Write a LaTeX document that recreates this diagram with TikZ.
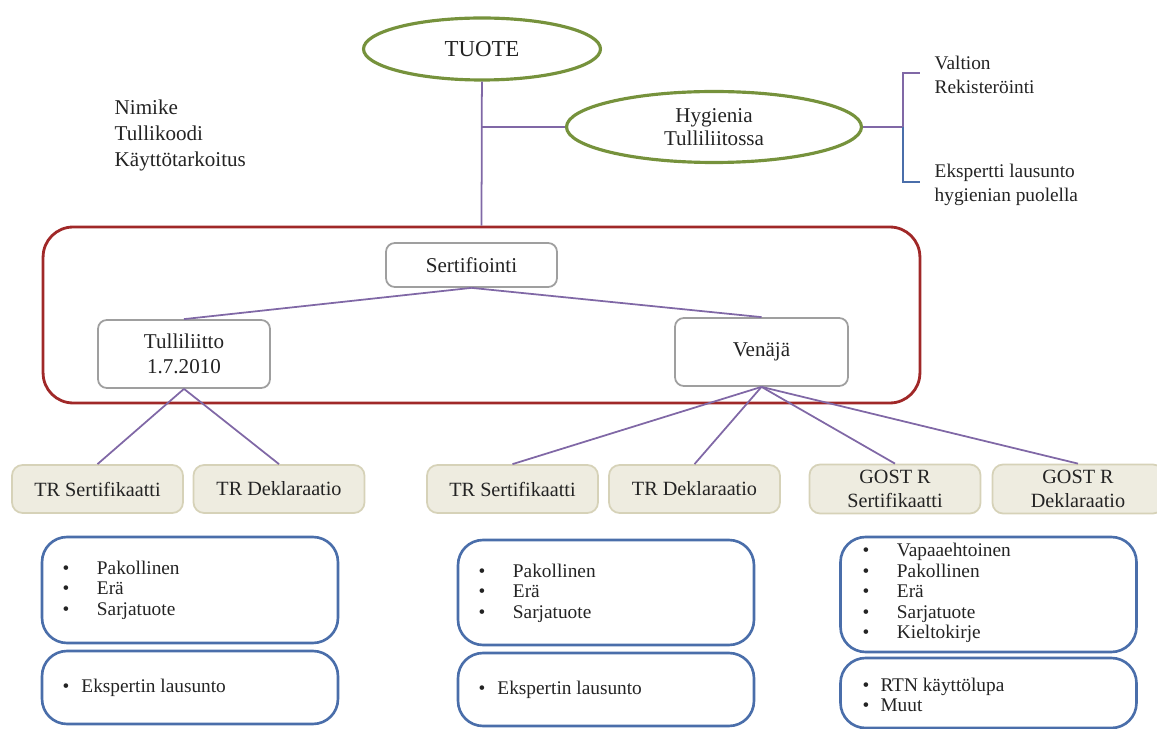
\documentclass[tikz,border=0pt]{standalone}
\usepackage{fontspec}
\setmainfont{Liberation Serif}
\usetikzlibrary{shapes.geometric}

\definecolor{tuotegreen}{RGB}{118,146,60}
\definecolor{certred}{RGB}{160,40,40}
\definecolor{linkviolet}{RGB}{128,104,166}
\definecolor{listblue}{RGB}{74,110,170}
\definecolor{beigefill}{RGB}{238,236,224}
\definecolor{beigeline}{RGB}{214,210,184}
\definecolor{inktext}{RGB}{35,35,35}

\newcommand{\bl}{\textbullet}

\begin{document}
\begin{tikzpicture}[x = 0.02cm, y = -0.02cm, line width = 1pt, text = inktext,
    oval/.style = {ellipse, draw = tuotegreen, line width = 1.8pt, align = center,
        font = \fontsize{12}{13.5}\selectfont},
    greybox/.style = {draw = gray!75, rounded corners = 5pt, align = center,
        font = \fontsize{12}{14.5}\selectfont},
    beigebox/.style = {draw = beigeline, fill = beigefill, rounded corners = 6pt,
        minimum width = 3.42cm, minimum height = 0.96cm, align = center,
        font = \fontsize{11.5}{13.5}\selectfont},
    listbox/.style = {draw = listblue, line width = 1.5pt, rounded corners = 0.5cm,
        minimum width = 5.92cm},
    listtext/.style = {anchor = west, align = left,
        font = \fontsize{11}{11.6}\selectfont},
    link/.style = {draw = linkviolet}]
\useasboundingbox (0,0) rectangle (1157,729);

% top
\node[oval, minimum width = 4.74cm, minimum height = 1.24cm,
    font = \fontsize{13}{14}\selectfont] (tuote) at (482,49) {TUOTE};
\node[oval, minimum width = 5.9cm, minimum height = 1.42cm] (hyg) at (714,127)
    {Hygienia\\Tulliliitossa};
\node[anchor = north west, align = left, font = \fontsize{12}{14.8}\selectfont]
    (nimike) at (108,93) {Nimike\\Tullikoodi\\Käyttötarkoitus};

\coordinate (hjoin) at (482,127);
\coordinate (brm) at (903,127);
\coordinate (br1) at (903,73);
\coordinate (br2) at (903,182);
\coordinate (t1) at (920,73);
\coordinate (t2) at (920,182);
\node[anchor = west, align = left, font = \fontsize{11}{13.6}\selectfont]
    (valtion) at (928,75) {Valtion\\Rekisteröinti};
\node[anchor = west, align = left, font = \fontsize{11}{13.6}\selectfont]
    (ekspertti) at (928,185) {Ekspertti lausunto\\hygienian puolella};

% certification frame
\node[draw = certred, line width = 1.6pt, rounded corners = 0.6cm,
    minimum width = 17.54cm, minimum height = 3.52cm] (frame) at (481.5,315) {};
\node[greybox, minimum width = 3.42cm, minimum height = 0.88cm] (sert) at (471.5,265)
    {Sertifiointi};
\node[greybox, minimum width = 3.44cm, minimum height = 1.36cm] (tulli) at (184,354)
    {Tulliliitto\\1.7.2010};
\node[greybox, minimum width = 3.46cm, minimum height = 1.36cm] (venaja) at (761.5,352)
    {Venäjä};

% documents
\node[beigebox] (trs1) at (97.5,489) {TR Sertifikaatti};
\node[beigebox] (trd1) at (279,489) {TR Deklaraatio};
\node[beigebox] (trs2) at (512.5,489) {TR Sertifikaatti};
\node[beigebox] (trd2) at (694.5,489) {TR Deklaraatio};
\node[beigebox] (gosts) at (895,489) {GOST R\\Sertifikaatti};
\node[beigebox] (gostd) at (1078,489) {GOST R\\Deklaraatio};

% lists
\node[listbox, minimum height = 2.12cm] (lista1) at (190,590) {};
\node[listbox, minimum height = 1.46cm] (listb1) at (190,687.5) {};
\node[listbox, minimum height = 2.1cm] (lista2) at (606,592.5) {};
\node[listbox, minimum height = 1.46cm] (listb2) at (606,689.5) {};
\node[listbox, minimum height = 2.3cm] (lista3) at (988.5,594.5) {};
\node[listbox, minimum height = 1.4cm] (listb3) at (988.5,693) {};

\node[listtext] (txa1) at (56,590)
    {\bl\hspace{5.5mm}Pakollinen\\\bl\hspace{5.5mm}Erä\\\bl\hspace{5.5mm}Sarjatuote};
\node[listtext] (txb1) at (56,688) {\bl\hspace{2.4mm}Ekspertin lausunto};
\node[listtext] (txa2) at (472,593)
    {\bl\hspace{5.5mm}Pakollinen\\\bl\hspace{5.5mm}Erä\\\bl\hspace{5.5mm}Sarjatuote};
\node[listtext] (txb2) at (472,690) {\bl\hspace{2.4mm}Ekspertin lausunto};
\node[listtext] (txa3) at (856,593)
    {\bl\hspace{5.5mm}Vapaaehtoinen\\\bl\hspace{5.5mm}Pakollinen\\\bl\hspace{5.5mm}Erä\\
     \bl\hspace{5.5mm}Sarjatuote\\\bl\hspace{5.5mm}Kieltokirje};
\node[listtext] (txb3) at (856,695) {\bl\hspace{2.2mm}RTN käyttölupa\\\bl\hspace{2.2mm}Muut};

% connectors
\draw[link] (tuote) -- (frame.north);
\draw[link] (hjoin) -- (hyg.west);
\draw[link] (hyg.east) -- (brm) -- (br1) -- (t1);
\draw[draw = listblue] (brm) -- (br2) -- (t2);
\draw[link] (sert.south) -- (tulli.north);
\draw[link] (sert.south) -- (venaja.north);
\draw[link] (tulli.south) -- (trs1.north);
\draw[link] (tulli.south) -- (trd1.north);
\draw[link] (venaja.south) -- (trs2.north);
\draw[link] (venaja.south) -- (trd2.north);
\draw[link] (venaja.south) -- (gosts.north);
\draw[link] (venaja.south) -- (gostd.north);

\end{tikzpicture}
\end{document}
